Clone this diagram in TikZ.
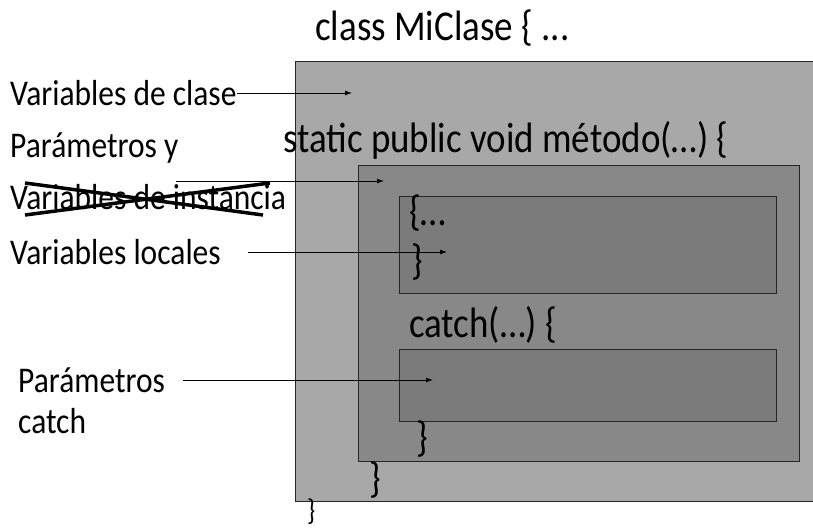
\documentclass[tikz,border=0pt]{standalone}
\usepackage{fontspec}
\setmainfont{Carlito}[FakeStretch=0.87]
\usetikzlibrary{arrows.meta}
\definecolor{outerfill}{HTML}{A8A8A8}
\definecolor{midfill}{HTML}{888888}
\definecolor{innerfill}{HTML}{7B7B7B}
\tikzset{
  scopebox/.style={draw=black!85, line width=0.9pt},
  lbl/.style={anchor=west, inner sep=0pt, font=\fontsize{36.2}{40}\selectfont},
  code/.style={anchor=west, inner sep=0pt, font=\fontsize{42.5}{46}\selectfont},
  pointer/.style={-{Latex[length=7pt,width=5pt]}, line width=0.8pt},
  strike/.style={line width=3.5pt, line cap=butt}
}
\begin{document}
\begin{tikzpicture}[x=1pt,y=-1pt]
\useasboundingbox (0,0) rectangle (813,529);
\clip (0,0) rectangle (813,529);

% nested scopes: class, method, try block, catch block
\draw[scopebox, fill=outerfill] (295,61) rectangle (830,501);
\draw[scopebox, fill=midfill] (358,165) rectangle (799,461);
\draw[scopebox, fill=innerfill] (399,196) rectangle (776,293);
\draw[scopebox, fill=innerfill] (399,349) rectangle (776,421);

% code fragments
\node[code] (cls) at (315,28) {class MiClase \{ ...};
\node[code] (mth) at (283,140) {static public void método(…) \{};
\node[code] (tryo) at (409,213) {\{…};
\node[code] (tryc) at (411,262) {\}};
\node[code] (cat) at (409,325) {catch(…) \{};
\node[code] (catc) at (416,439) {\}};
\node[code] (mthc) at (369,480) {\}};
\node[code, font=\fontsize{30}{33}\selectfont] (clsc) at (307,512) {\}};

% labels on the left
\node[lbl] (vclase) at (10,93) {Variables de clase};
\node[lbl] (param) at (10,148) {Parámetros y};
\node[lbl] (vinst) at (10,197) {Variables de instancia};
\node[lbl] (vloc) at (10,252) {Variables locales};
\node[lbl] (pcat) at (18,380) {Parámetros};
\node[lbl] (pcat2) at (18,421) {catch};

% crossed-out label
\draw[strike] (25,183) -- (263,215);
\draw[strike] (25,215) -- (270,183);

% pointers into each scope
\coordinate (tclase) at (352,93);
\coordinate (sinst) at (176,181);
\coordinate (tinst) at (384,181);
\coordinate (sloc) at (248,252);
\coordinate (tloc) at (447,252);
\coordinate (spcat) at (183,380);
\coordinate (tpcat) at (433,380);
\draw[pointer] (vclase.east) -- (tclase);
\draw[pointer] (sinst) -- (tinst);
\draw[pointer] (sloc) -- (tloc);
\draw[pointer] (spcat) -- (tpcat);
\end{tikzpicture}
\end{document}
